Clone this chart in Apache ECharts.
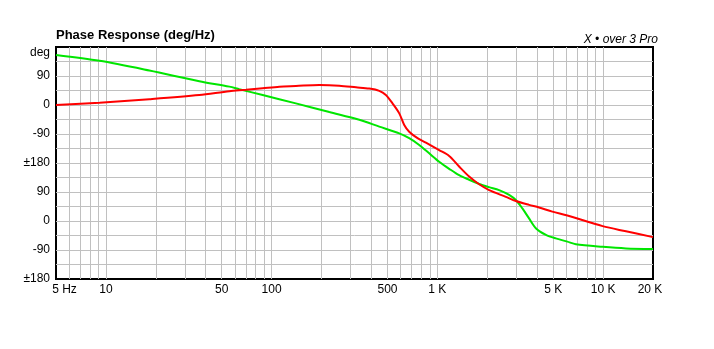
<!DOCTYPE html>
<html>
<head>
<meta charset="utf-8">
<script src="https://cdn.jsdelivr.net/npm/echarts@6/dist/echarts.min.js"></script>
<style>
html,body{margin:0;padding:0;background:#fff;}
#c{width:714px;height:349px;}
</style>
</head>
<body>
<div id="c"></div>
<script>
// Green trace (frequency Hz, unwrapped phase deg)
const greenFreq = [5, 9.15, 18.3, 36.6, 55.6, 63.8, 88.3, 140, 223, 338, 446, 589, 676, 777, 893, 1025, 1178, 1353, 1555, 1787, 2052, 2358, 2710, 2974, 3258, 3575, 3940, 4520, 5180, 6085, 6850, 9930, 13740, 20000];
const greenPhase = [155, 137, 107, 74, 57, 49, 31, 5, -22, -46, -67, -88, -103, -124, -150, -176, -198, -218, -232, -245, -255, -264, -279, -295, -321, -352, -383, -403, -414, -424, -432, -440, -445, -447];
// Red trace
const redFreq = [5, 9.15, 18.3, 36.6, 55.6, 70.1, 88.3, 111.3, 140, 194, 256, 323, 388, 446, 489, 536, 589, 631, 676, 759, 853, 1025, 1178, 1353, 1555, 1787, 2052, 2588, 2974, 3575, 4108, 4940, 6085, 9930, 13740, 20000];
const redPhase = [0, 7, 18, 31, 43, 47, 52, 57, 59, 62, 60, 55, 51, 44, 31, 5, -26, -62, -83, -103, -117, -140, -158, -191, -222, -246, -264, -285, -298, -310, -318, -331, -343, -376, -392, -410];

// Axis ticks
const xLabelValues = [5, 10, 50, 100, 500, 1000, 5000, 10000, 20000];
const xLabelTexts = ['5 Hz', '10', '50', '100', '500', '1 K', '5 K', '10 K', '20 K'];
const xGridValues = [6, 7, 8, 9, 10, 20, 30, 40, 50, 60, 70, 80, 90, 100, 200, 300, 400, 500, 600, 700, 800, 900, 1000, 2000, 3000, 4000, 5000, 6000, 7000, 8000, 9000, 10000];
const yLabelValues = [180, 90, 0, -90, -180, -270, -360, -450, -540];
const yLabelTexts = ['deg', '90', '0', '-90', '±180', '90', '0', '-90', '±180'];
const yGridValues = [135, 90, 45, 0, -45, -90, -135, -180, -225, -270, -315, -360, -405, -450, -495];

const FONT = '"Liberation Sans", Arial, sans-serif';
const chart = echarts.init(document.getElementById('c'), null, {renderer: 'canvas'});

const lg = Math.log10;
function zip(a, b) { return a.map((v, i) => [lg(v), b[i]]); }

chart.setOption({
  animation: false,
  backgroundColor: '#fff',
  title: [
    {text: 'Phase Response (deg/Hz)', left: 56, top: 29, padding: 0,
     textStyle: {fontFamily: FONT, fontSize: 13, fontWeight: 'bold', color: '#000'}},
    {text: 'X • over 3 Pro', right: 56, top: 34, padding: 0,
     textStyle: {fontFamily: FONT, fontSize: 12, fontStyle: 'italic', fontWeight: 'normal', color: '#000'}}
  ],
  grid: {left: 56, right: 61, top: 47, bottom: 70, show: true, borderColor: '#000', borderWidth: 2, backgroundColor: 'transparent'},
  xAxis: {
    type: 'value', min: lg(5), max: lg(20000),
    axisLine: {show: false},
    axisTick: {show: false, customValues: xGridValues.map(lg)},
    splitLine: {show: true, lineStyle: {color: '#c0c0c0', width: 1}},
    axisLabel: {
      customValues: xLabelValues.map(lg), margin: 5,
      fontFamily: FONT, fontSize: 12, color: '#000',
      formatter: function (v) {
        let best = 0;
        for (let i = 0; i < xLabelValues.length; i++) {
          if (Math.abs(lg(xLabelValues[i]) - v) < Math.abs(lg(xLabelValues[best]) - v)) best = i;
        }
        if (best === 0) return '{first|' + xLabelTexts[0] + '}';
        if (best === xLabelTexts.length - 1) return '{last|' + xLabelTexts[best] + '}';
        return xLabelTexts[best];
      },
      rich: {
        first: {fontFamily: FONT, fontSize: 12, color: '#000', padding: [0, 0, 0, 17]},
        last: {fontFamily: FONT, fontSize: 12, color: '#000', padding: [0, 6, 0, 0]}
      }
    }
  },
  yAxis: {
    type: 'value', min: -540, max: 180, interval: 45,
    axisLine: {show: false},
    axisTick: {show: false, customValues: yGridValues},
    splitLine: {show: true, lineStyle: {color: '#c0c0c0', width: 1}},
    axisLabel: {
      customValues: yLabelValues, margin: 6,
      fontFamily: FONT, fontSize: 12, color: '#000',
      formatter: function (v) {
        const i = yLabelValues.indexOf(Math.round(v));
        if (i === 0) return '{top|' + yLabelTexts[0] + '}';
        return i >= 0 ? yLabelTexts[i] : '';
      },
      rich: {
        top: {fontFamily: FONT, fontSize: 12, color: '#000', padding: [12, 0, 0, 0]}
      }
    }
  },
  series: [
    {type: 'line', name: 'green', data: zip(greenFreq, greenPhase), showSymbol: false, smooth: 0.3,
     lineStyle: {color: '#00e600', width: 2}, z: 3},
    {type: 'line', name: 'red', data: zip(redFreq, redPhase), showSymbol: false, smooth: 0.3,
     lineStyle: {color: '#ff0000', width: 2}, z: 4}
  ]
});
</script>
</body>
</html>
